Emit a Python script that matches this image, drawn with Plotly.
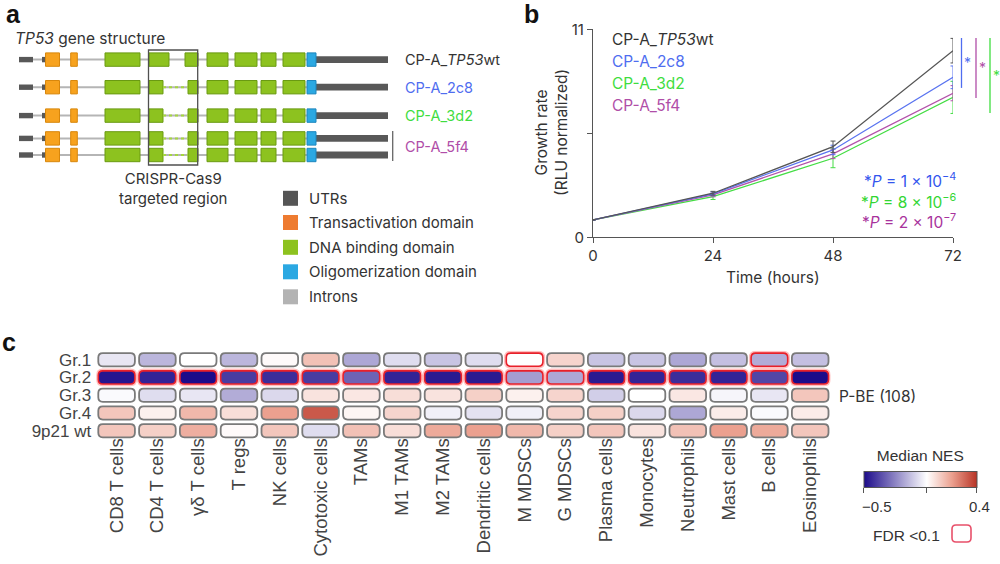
import plotly.graph_objects as go
from plotly.colors import sample_colorscale

# ======================= DATA =======================
# --- Panel a: TP53 gene schematic (schematic coordinate units) ---
utr5_blocks = [(19, 33), (42, 45.5)]
utr3_block = (316, 388)
transact_exons = [(45.5, 59.5), (70.7, 77.3)]
dna_exons_wt = [(105, 140), (149, 169), (185, 198), (207, 228), (235, 257), (261, 276), (283, 305)]
dna_exons_edited = [(105, 140), (149, 163), (188, 198), (207, 228), (235, 257), (261, 276), (283, 305)]
olig_exon = (307, 316)
intron_span = (33, 307)
deleted_span = (163, 188)
crispr_span = (148.5, 197.7)
track_edited = [False, True, True, True, True]
clone_labels = ["CP-A_<i>TP53</i>wt", "CP-A_2c8", "CP-A_3d2", "CP-A_5f4"]
legend_labels = ["UTRs", "Transactivation domain", "DNA binding domain",
                 "Oligomerization domain", "Introns"]

# --- Panel b: growth curves ---
time_hours = [0, 24, 48, 72]
growth_wt = [0.92, 2.33, 4.79, 9.87]
growth_2c8 = [0.92, 2.30, 4.62, 8.46]
growth_3d2 = [0.92, 2.15, 4.18, 7.40]
growth_5f4 = [0.92, 2.24, 4.41, 7.62]
err_wt = [0, 0.10, 0.30, 0.65]
err_2c8 = [0, 0.10, 0.25, 0.60]
err_3d2 = [0, 0.15, 0.50, 0.85]
err_5f4 = [0, 0.10, 0.25, 0.40]
series_names = ["CP-A_<i>TP53</i>wt", "CP-A_2c8", "CP-A_3d2", "CP-A_5f4"]
sig_top = 10.54
sig_bottoms = [7.90, 7.37, 6.57]          # 2c8, 5f4, 3d2
p_value_texts = ["*<i>P</i> = 1 × 10<sup>−4</sup>",
                 "*<i>P</i> = 8 × 10<sup>−6</sup>",
                 "*<i>P</i> = 2 × 10<sup>−7</sup>"]

# --- Panel c: median NES heatmap ---
cell_types = ["CD8 T cells", "CD4 T cells", "γδ T cells", "T regs", "NK cells",
              "Cytotoxic cells", "TAMs", "M1 TAMs", "M2 TAMs", "Dendritic cells",
              "M MDSCs", "G MDSCs", "Plasma cells", "Monocytes", "Neutrophils",
              "Mast cells", "B cells", "Eosinophils"]
groups = ["Gr.1", "Gr.2", "Gr.3", "Gr.4", "9p21 wt"]
nes_gr1 = [-0.05, -0.15, 0.00, -0.15, 0.01, 0.13, -0.18, -0.07, -0.12, -0.07, 0.00, 0.09, -0.12, -0.12, -0.18, -0.13, -0.17, -0.13]
nes_gr2 = [-0.48, -0.45, -0.50, -0.40, -0.43, -0.40, -0.32, -0.45, -0.47, -0.47, -0.20, -0.18, -0.47, -0.45, -0.43, -0.45, -0.38, -0.50]
nes_gr3 = [-0.01, -0.07, -0.05, -0.17, -0.08, 0.06, 0.05, 0.07, 0.06, 0.10, 0.03, 0.09, -0.10, 0.00, 0.05, -0.02, -0.05, 0.12]
nes_gr4 = [0.12, 0.03, 0.15, 0.07, 0.20, 0.33, 0.02, 0.09, -0.03, -0.06, -0.03, 0.09, 0.10, -0.08, -0.18, 0.04, -0.01, 0.04]
nes_wt = [0.12, 0.10, 0.17, 0.01, 0.12, -0.07, 0.13, 0.07, 0.18, 0.20, 0.15, 0.10, 0.12, 0.06, 0.13, 0.20, 0.18, 0.12]
fdr_gr1 = [0, 0, 0, 0, 0, 0, 0, 0, 0, 0, 1, 0, 0, 0, 0, 0, 1, 0]
fdr_gr2 = [1] * 18
fdr_gr3 = [0] * 18
fdr_gr4 = [0] * 18
fdr_wt = [0] * 18
nes_min, nes_max = -0.5, 0.4

# ======================= STYLE / LAYOUT =======================
W, H = 1000, 564
FA = "Inter, Roboto, Arial, sans-serif"
FC = "Liberation Sans, Arial, sans-serif"
FN = "Liberation Sans Narrow, Liberation Sans, Arial, sans-serif"
TXT = "#333333"


def px(x):
    return x / W


def py(y):
    return 1 - y / H


fig = go.Figure()
shapes = []
ann = []

# ---------- Panel a ----------
track_y = [59.6, 87.2, 115.6, 138.4, 155.0]
exon_h = 13.4
for y, edited in zip(track_y, track_edited):
    shapes.append(dict(type="line", xref="x2", yref="y2", x0=intron_span[0], x1=intron_span[1],
                       y0=y, y1=y, line=dict(color="#B5B5B5", width=2)))
    for a, b in utr5_blocks:
        shapes.append(dict(type="rect", xref="x2", yref="y2", x0=a, x1=b, y0=y - 2.7, y1=y + 2.7,
                           fillcolor="#585858", line=dict(width=0)))
    shapes.append(dict(type="rect", xref="x2", yref="y2", x0=utr3_block[0], x1=utr3_block[1],
                       y0=y - 3.4, y1=y + 3.4, fillcolor="#585858", line=dict(width=0)))
    for a, b in transact_exons:
        shapes.append(dict(type="rect", xref="x2", yref="y2", x0=a, x1=b, y0=y - exon_h / 2,
                           y1=y + exon_h / 2, fillcolor="#F7A21E", line=dict(color="#D8870C", width=1)))
    exons = dna_exons_edited if edited else dna_exons_wt
    for a, b in exons:
        shapes.append(dict(type="rect", xref="x2", yref="y2", x0=a, x1=b, y0=y - exon_h / 2,
                           y1=y + exon_h / 2, fillcolor="#8DC21F", line=dict(color="#6A9A12", width=1)))
    shapes.append(dict(type="rect", xref="x2", yref="y2", x0=olig_exon[0], x1=olig_exon[1],
                       y0=y - exon_h / 2, y1=y + exon_h / 2, fillcolor="#2BA8E2",
                       line=dict(color="#1D86BE", width=1)))
    if edited:
        shapes.append(dict(type="line", xref="x2", yref="y2", x0=deleted_span[0], x1=deleted_span[1],
                           y0=y, y1=y, line=dict(color="#A5D640", width=2, dash="dot")))

shapes.append(dict(type="rect", xref="x2", yref="y2", x0=crispr_span[0], x1=crispr_span[1],
                   y0=50, y1=165, line=dict(color="#505050", width=1.3)))
shapes.append(dict(type="line", xref="x2", yref="y2", x0=392.7, x1=392.7, y0=131, y1=161,
                   line=dict(color="#666666", width=1.3)))

clone_colors = ["#333333", "#4F6DF0", "#3FDD3F", "#B04EA8"]
label_y = [track_y[0], track_y[1], track_y[2], (track_y[3] + track_y[4]) / 2]
for lab, col, y in zip(clone_labels, clone_colors, label_y):
    ann.append(dict(text=lab, x=px(403), y=py(y), xanchor="left", yanchor="middle",
                    font=dict(family=FA, size=14.5, color=col)))

ann.append(dict(text="<i>TP53</i> gene structure", x=px(13), y=py(38), xanchor="left",
                yanchor="middle", font=dict(family=FA, size=15.5, color=TXT)))
ann.append(dict(text="CRISPR-Cas9<br>targeted region", x=px(173), y=py(188.5), xanchor="center",
                yanchor="middle", align="center", font=dict(family=FA, size=15, color=TXT)))

legend_colors = ["#555555", "#EE7B30", "#8DC21F", "#2BA8E2", "#B3B3B3"]
legend_y = [198.3, 222.5, 247.3, 271.8, 296.8]
for lab, col, y in zip(legend_labels, legend_colors, legend_y):
    shapes.append(dict(type="rect", xref="x2", yref="y2", x0=283, x1=298, y0=y - 7.5, y1=y + 7.5,
                       fillcolor=col, line=dict(width=0)))
    ann.append(dict(text=lab, x=px(307), y=py(y), xanchor="left", yanchor="middle",
                    font=dict(family=FA, size=15, color=TXT)))

fig.add_trace(go.Scatter(x=[0], y=[0], xaxis="x2", yaxis="y2", mode="markers",
                         marker=dict(opacity=0), hoverinfo="skip"))

# ---------- Panel b ----------
bx0, bx1 = 593, 953
by0, by1 = 237.3, 29.3
line_colors = ["#555555", "#5A74F0", "#44DD44", "#B352AA"]
series = [(growth_wt, err_wt), (growth_2c8, err_2c8), (growth_3d2, err_3d2), (growth_5f4, err_5f4)]
order = [2, 3, 1, 0]
for i in order:
    vals, errs = series[i]
    fig.add_trace(go.Scatter(x=time_hours, y=vals, mode="lines", name=series_names[i],
                             line=dict(color=line_colors[i], width=1.3),
                             error_y=dict(type="data", array=errs, visible=True, color=line_colors[i],
                                          thickness=1, width=2.5)))

for lab, col, y in zip(series_names, ["#333333", "#4F6DF0", "#3FDD3F", "#B04EA8"], [39, 61, 83, 105]):
    ann.append(dict(text=lab, x=px(610), y=py(y), xanchor="left", yanchor="middle",
                    font=dict(family=FA, size=15.5, color=col)))


def b_paper(xh, yv):
    return (px(bx0) + xh / 72 * (px(bx1) - px(bx0)),
            py(by0) + yv / 11 * (py(by1) - py(by0)))


sig_x = [73.7, 76.6, 79.4]
sig_cols = ["#4F6DF0", "#B04EA8", "#3FDD3F"]
for xh, yb, col in zip(sig_x, sig_bottoms, sig_cols):
    xa, ya = b_paper(xh, sig_top)
    _, yb_p = b_paper(xh, yb)
    shapes.append(dict(type="line", xref="paper", yref="paper", x0=xa, x1=xa, y0=ya, y1=yb_p,
                       line=dict(color=col, width=1.3)))
    xs, ys = b_paper(xh + 0.15, (sig_top + yb) / 2)
    ann.append(dict(text="*", x=xs, y=ys, xanchor="left", yanchor="middle",
                    font=dict(family=FA, size=14, color=col)))

for txt, col, y in zip(p_value_texts, ["#3355EE", "#33D633", "#A8329C"], [180, 201, 221]):
    ann.append(dict(text=txt, x=px(958), y=py(y), xanchor="right", yanchor="middle",
                    font=dict(family=FA, size=15.5, color=col)))

ann.append(dict(text="Growth rate<br>(RLU normalized)", x=px(551), y=py(133), textangle=-90,
                xanchor="center", yanchor="middle", align="center",
                font=dict(family=FA, size=15.5, color=TXT)))
ann.append(dict(text="Time (hours)", x=px(773), y=py(277), xanchor="center", yanchor="middle",
                font=dict(family=FA, size=15.5, color=TXT)))

# ---------- Panel c ----------
nes = [nes_gr1, nes_gr2, nes_gr3, nes_gr4, nes_wt]
fdr = [fdr_gr1, fdr_gr2, fdr_gr3, fdr_gr4, fdr_wt]
cscale = [[0.0, "#1C0B8A"], [0.556, "#FFFFFF"], [0.778, "#EBA08F"], [1.0, "#B83325"]]

cx0, cx1 = 96.2, 830.6
cy0, cy1 = 350.8, 439.6
ncol, nrow = len(cell_types), len(groups)
ux = (cx1 - cx0) / ncol
uy = (cy1 - cy0) / nrow

fig.add_trace(go.Heatmap(
    z=nes, x=list(range(ncol)), y=list(range(nrow)), xaxis="x3", yaxis="y3",
    colorscale=cscale, zmin=nes_min, zmax=nes_max, xgap=14, ygap=9,
    colorbar=dict(orientation="h", x=px(920.3), xanchor="center", y=py(474), yanchor="middle",
                  len=113, lenmode="pixels", thickness=16, thicknessmode="pixels",
                  outlinewidth=1, outlinecolor="#555555", tickvals=[-0.5, 0, 0.4],
                  ticks="outside", ticklen=5, tickcolor="#555555", showticklabels=False,
                  xpad=0, ypad=0,
                  title=dict(text="Median NES", side="top",
                             font=dict(family=FN, size=15.5, color=TXT))),
    hoverinfo="skip"))


def rrect(xc, yc, hw, hh, rx, ry):
    x0, x1, y0, y1 = xc - hw, xc + hw, yc - hh, yc + hh
    return (f"M {x0 + rx},{y0} L {x1 - rx},{y0} Q {x1},{y0} {x1},{y0 + ry} "
            f"L {x1},{y1 - ry} Q {x1},{y1} {x1 - rx},{y1} L {x0 + rx},{y1} "
            f"Q {x0},{y1} {x0},{y1 - ry} L {x0},{y0 + ry} Q {x0},{y0} {x0 + rx},{y0} Z")


hw, hh = 18.3 / ux, 6.6 / uy
rx, ry = 4.5 / ux, 4.5 / uy
for r in range(nrow):
    cols = sample_colorscale(cscale, [(v - nes_min) / (nes_max - nes_min) for v in nes[r]])
    for c in range(ncol):
        sig = fdr[r][c] == 1
        if sig:
            shapes.append(dict(type="path", xref="x3", yref="y3",
                               path=rrect(c, r, hw, hh, rx, ry), fillcolor="rgba(0,0,0,0)",
                               line=dict(color="rgba(255,70,70,0.35)", width=4.5)))
        shapes.append(dict(type="path", xref="x3", yref="y3",
                           path=rrect(c, r, hw, hh, rx, ry), fillcolor=cols[c],
                           line=dict(color="#E8202A" if sig else "#7A7A7A", width=1.6 if sig else 1.8)))

ann.append(dict(text="P-BE (108)", x=px(837), y=py(396), xanchor="left", yanchor="middle",
                font=dict(family=FA, size=15.5, color=TXT)))
ann.append(dict(text="−0.5", x=px(877), y=py(506.5), xanchor="center", yanchor="middle",
                font=dict(family=FN, size=15, color=TXT)))
ann.append(dict(text="0.4", x=px(979), y=py(506.5), xanchor="center", yanchor="middle",
                font=dict(family=FN, size=15, color=TXT)))
ann.append(dict(text="FDR <0.1", x=px(942), y=py(535), xanchor="right", yanchor="middle",
                font=dict(family=FN, size=15.5, color=TXT)))
shapes.append(dict(type="path", xref="paper", yref="paper",
                   path=rrect(px(961.5), py(533.5), 9.5 / W, 8.5 / H, 4 / W, 4 / H),
                   fillcolor="white", line=dict(color="#E8506A", width=1.6)))

# panel letters
for t, x, y in [("a", 4, 14), ("b", 522, 14), ("c", 0, 342)]:
    ann.append(dict(text=f"<b>{t}</b>", x=px(x), y=py(y), xanchor="left", yanchor="middle",
                    font=dict(family=FC, size=25, color="#111111")))

for a in ann:
    a.setdefault("xref", "paper")
    a.setdefault("yref", "paper")
    a["showarrow"] = False

fig.update_layout(
    width=W, height=H, margin=dict(l=0, r=0, t=0, b=0, autoexpand=False),
    paper_bgcolor="white", plot_bgcolor="rgba(0,0,0,0)", showlegend=False,
    shapes=shapes, annotations=ann,
    xaxis=dict(domain=[px(bx0), px(bx1)], range=[0, 72], tickvals=time_hours, anchor="y",
               ticks="outside", ticklen=5, tickcolor="#555555", showline=True,
               linecolor="#555555", linewidth=1.3, showgrid=False, zeroline=False,
               automargin=False, tickfont=dict(family=FA, size=15, color=TXT)),
    yaxis=dict(domain=[py(by0), py(by1)], range=[0, 11], tickvals=[0, 5.5, 11], anchor="x",
               ticktext=["0", "", "11"], ticks="outside", ticklen=5, tickcolor="#555555",
               showline=True, linecolor="#555555", linewidth=1.3, showgrid=False,
               automargin=False, zeroline=False, tickfont=dict(family=FA, size=15, color=TXT)),
    xaxis2=dict(domain=[0, 0.52], range=[0, 520], visible=False, fixedrange=True,
                anchor="y2", automargin=False),
    yaxis2=dict(domain=[py(320), 1], range=[320, 0], visible=False, fixedrange=True,
                anchor="x2", automargin=False),
    xaxis3=dict(domain=[px(cx0), px(cx1)], range=[-0.5, ncol - 0.5], tickvals=list(range(ncol)),
                ticktext=cell_types, tickangle=-90, ticks="", showgrid=False, zeroline=False,
                showline=False, anchor="y3", automargin=False, ticklabelstandoff=-6,
                tickfont=dict(family=FC, size=18.5, color="#444444")),
    yaxis3=dict(domain=[py(cy1), py(cy0)], range=[nrow - 0.5, -0.5], tickvals=list(range(nrow)),
                ticktext=groups, ticks="", showgrid=False, zeroline=False, showline=False,
                anchor="x3", automargin=False, ticklabelstandoff=4,
                tickfont=dict(family=FC, size=17, color="#444444")),
)

fig.write_html("out.html", config={"displayModeBar": False},
               post_script="document.body.style.margin='0';document.body.style.overflow='hidden';")
